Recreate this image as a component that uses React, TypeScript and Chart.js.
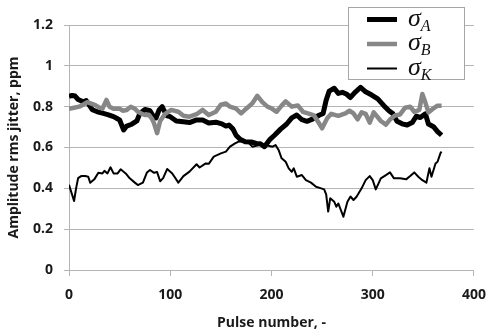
import React, { useEffect, useRef } from 'react';
import { Chart, registerables } from 'chart.js';
Chart.register(...registerables);

// sigma_A (thick black)
const pulseA = [0, 3, 6, 9, 14, 17, 20, 23, 28, 34, 39, 44, 47, 50, 54, 57, 62, 67, 70, 75, 80, 83, 86, 89, 92, 94, 97, 100, 106, 113, 119, 126, 132, 138, 145, 151, 155, 158, 162, 165, 169, 174, 180, 185, 189, 193, 198, 203, 209, 215, 220, 225, 230, 235, 241, 247, 251, 254, 257, 262, 266, 270, 274, 278, 282, 288, 293, 299, 305, 311, 316, 320, 324, 329, 334, 339, 343, 347, 352, 355, 360, 364, 368];
const sigmaA = [0.85, 0.855, 0.852, 0.835, 0.824, 0.83, 0.808, 0.785, 0.775, 0.767, 0.76, 0.751, 0.743, 0.735, 0.686, 0.705, 0.714, 0.73, 0.767, 0.786, 0.78, 0.755, 0.745, 0.784, 0.8, 0.78, 0.755, 0.751, 0.73, 0.726, 0.722, 0.735, 0.735, 0.72, 0.724, 0.716, 0.705, 0.71, 0.69, 0.66, 0.64, 0.628, 0.627, 0.62, 0.618, 0.604, 0.637, 0.66, 0.69, 0.715, 0.745, 0.759, 0.736, 0.728, 0.74, 0.758, 0.767, 0.832, 0.876, 0.89, 0.865, 0.87, 0.862, 0.845, 0.868, 0.895, 0.873, 0.857, 0.838, 0.805, 0.78, 0.765, 0.728, 0.716, 0.71, 0.722, 0.753, 0.747, 0.765, 0.715, 0.702, 0.678, 0.66];

// sigma_B (thick grey)
const pulseB = [0, 5, 10, 14, 18, 22, 26, 30, 33, 37, 40, 44, 50, 53, 57, 61, 65, 68, 72, 75, 79, 82, 84, 87, 90, 95, 101, 108, 113, 119, 126, 132, 138, 145, 150, 155, 159, 165, 170, 175, 181, 186, 191, 196, 200, 205, 210, 214, 220, 226, 231, 236, 242, 246, 250, 255, 259, 266, 273, 277, 281, 285, 289, 293, 297, 301, 308, 313, 317, 322, 327, 332, 337, 341, 346, 349, 352, 355, 360, 364, 368];
const sigmaB = [0.79, 0.795, 0.8, 0.81, 0.822, 0.815, 0.808, 0.795, 0.79, 0.833, 0.8, 0.79, 0.79, 0.78, 0.784, 0.8, 0.79, 0.775, 0.765, 0.759, 0.76, 0.74, 0.718, 0.67, 0.73, 0.765, 0.784, 0.775, 0.755, 0.751, 0.763, 0.784, 0.759, 0.775, 0.81, 0.816, 0.8, 0.79, 0.767, 0.79, 0.816, 0.853, 0.822, 0.8, 0.792, 0.775, 0.805, 0.826, 0.8, 0.806, 0.775, 0.767, 0.757, 0.726, 0.694, 0.743, 0.765, 0.755, 0.767, 0.78, 0.767, 0.738, 0.772, 0.765, 0.722, 0.772, 0.73, 0.712, 0.737, 0.757, 0.762, 0.795, 0.8, 0.775, 0.784, 0.862, 0.82, 0.772, 0.792, 0.805, 0.805];

// sigma_K (thin black)
const pulseK = [0, 3, 5, 7, 9, 12, 16, 19, 21, 25, 29, 33, 35, 38, 41, 44, 48, 51, 56, 60, 65, 68, 73, 77, 80, 84, 87, 90, 93, 97, 102, 108, 113, 119, 126, 129, 135, 138, 143, 150, 155, 159, 164, 167, 172, 177, 181, 186, 191, 196, 201, 204, 207, 210, 214, 217, 220, 222, 225, 230, 234, 239, 244, 249, 252, 254, 256, 258, 262, 264, 266, 268, 271, 275, 278, 281, 284, 289, 293, 297, 300, 303, 308, 313, 317, 321, 327, 333, 337, 341, 345, 349, 353, 356, 358, 362, 364, 367, 368];
const sigmaK = [0.417, 0.37, 0.338, 0.4, 0.45, 0.46, 0.46, 0.457, 0.427, 0.444, 0.476, 0.473, 0.486, 0.473, 0.503, 0.473, 0.473, 0.493, 0.473, 0.449, 0.428, 0.416, 0.428, 0.478, 0.49, 0.476, 0.48, 0.435, 0.45, 0.495, 0.473, 0.428, 0.46, 0.482, 0.518, 0.502, 0.522, 0.52, 0.555, 0.571, 0.58, 0.604, 0.62, 0.628, 0.63, 0.625, 0.604, 0.61, 0.615, 0.61, 0.604, 0.612, 0.588, 0.547, 0.53, 0.498, 0.481, 0.498, 0.457, 0.465, 0.44, 0.428, 0.408, 0.4, 0.395, 0.37, 0.286, 0.351, 0.334, 0.31, 0.326, 0.3, 0.261, 0.334, 0.36, 0.343, 0.359, 0.4, 0.44, 0.46, 0.44, 0.395, 0.449, 0.465, 0.478, 0.449, 0.449, 0.444, 0.46, 0.478, 0.457, 0.44, 0.428, 0.498, 0.457, 0.522, 0.53, 0.574, 0.58];

const seriesSubs = ['A', 'B', 'K'];
const xTickLabels = ['0', '100', '200', '300', '400'];
const yTickLabels = ['0', '0.2', '0.4', '0.6', '0.8', '1', '1.2'];
const xTitle = 'Pulse number, -';
const yTitle = 'Amplitude rms jitter, ppm';

const toPoints = (xs: number[], ys: number[]) => xs.map((x, i) => ({ x, y: ys[i] }));

const legendPlugin = {
  id: 'sigmaLegend',
  afterDraw(chart: any) {
    const { ctx, chartArea } = chart;
    const boxW = 116;
    const boxH = 72;
    const x0 = chartArea.right - 126;
    const y0 = chartArea.top - 18;
    ctx.save();
    ctx.fillStyle = '#ffffff';
    ctx.fillRect(x0, y0, boxW, boxH);
    ctx.strokeStyle = '#a6a6a6';
    ctx.lineWidth = 1;
    ctx.strokeRect(x0 + 0.5, y0 + 0.5, boxW, boxH);
    chart.data.datasets.forEach((ds: any, i: number) => {
      const cy = y0 + 12.5 + i * 24.5;
      ctx.strokeStyle = ds.borderColor;
      ctx.lineWidth = ds.borderWidth;
      ctx.lineCap = 'butt';
      ctx.beginPath();
      ctx.moveTo(x0 + 19, cy);
      ctx.lineTo(x0 + 49, cy);
      ctx.stroke();
      ctx.fillStyle = '#111111';
      ctx.textBaseline = 'alphabetic';
      ctx.textAlign = 'left';
      ctx.font = 'italic 26px "Liberation Serif"';
      ctx.fillText('σ', x0 + 60, cy + 6);
      const w = ctx.measureText('σ').width;
      ctx.font = 'italic 16px "Liberation Serif"';
      ctx.fillText(seriesSubs[i], x0 + 60 + w, cy + 11);
    });
    ctx.restore();
  },
};

export default function App() {
  const ref = useRef<HTMLCanvasElement>(null);
  useEffect(() => {
    document.body.style.margin = '0';
    const canvas = ref.current;
    if (!canvas) return;
    const gridColor = '#b5b5b5';
    const tickFont = { family: '"Open Sans"', size: 14, weight: 'bold' as const };
    const chart = new Chart(canvas, {
      type: 'line',
      data: {
        datasets: [
          { label: 'σA', data: toPoints(pulseA, sigmaA), borderColor: '#000000', borderWidth: 5, pointRadius: 0, tension: 0, order: 2, borderJoinStyle: 'round' },
          { label: 'σB', data: toPoints(pulseB, sigmaB), borderColor: '#878787', borderWidth: 4.5, pointRadius: 0, tension: 0, order: 1, borderJoinStyle: 'round' },
          { label: 'σK', data: toPoints(pulseK, sigmaK), borderColor: '#000000', borderWidth: 2, pointRadius: 0, tension: 0, order: 0, borderJoinStyle: 'round' },
        ],
      },
      options: {
        responsive: false,
        animation: false,
        layout: { padding: { left: 0, top: 25, right: 13, bottom: 0 } },
        plugins: { legend: { display: false }, tooltip: { enabled: false } },
        scales: {
          x: {
            type: 'linear',
            min: 0,
            max: 400,
            ticks: {
              stepSize: 100,
              color: '#1a1a1a',
              font: tickFont,
              padding: 11,
              maxRotation: 0,
              callback: (_v: any, i: number) => xTickLabels[i],
            },
            grid: { drawOnChartArea: false, drawTicks: true, tickLength: 6, color: gridColor },
            border: { display: true, color: gridColor },
            title: { display: true, text: xTitle, color: '#1a1a1a', font: tickFont, padding: { top: 0, bottom: 3 } },
            afterFit: (s: any) => { s.height = 64; },
          },
          y: {
            min: 0,
            max: 1.2,
            ticks: {
              stepSize: 0.2,
              color: '#1a1a1a',
              font: tickFont,
              padding: 11,
              callback: (_v: any, i: number) => yTickLabels[i],
            },
            grid: { drawTicks: true, tickLength: 5, color: gridColor },
            border: { display: true, color: gridColor },
            title: { display: true, text: yTitle, color: '#1a1a1a', font: tickFont, padding: { top: 6, bottom: 0 } },
            afterFit: (s: any) => { s.width = 69; },
          },
        },
      },
      plugins: [legendPlugin],
    } as any);
    return () => chart.destroy();
  }, []);
  return (
    <div style={{ width: 497, height: 334 }}>
      <canvas ref={ref} width={497} height={334} />
    </div>
  );
}
